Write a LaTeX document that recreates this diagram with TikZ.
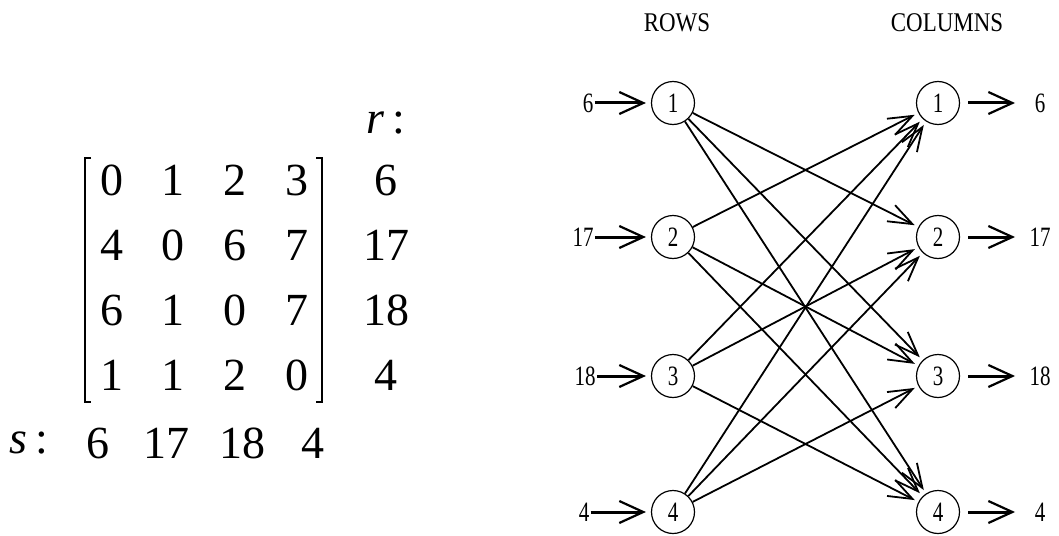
\documentclass[tikz,border=0pt]{standalone}
\usepackage{fontspec}
\setmainfont{Liberation Serif}
\newfontfamily\narrowfont[FakeStretch=0.75]{Liberation Serif}
\newfontfamily\headfont[FakeStretch=0.85]{Liberation Serif}
\usetikzlibrary{arrows.meta}
\tikzset{
  vert/.style={draw, circle, line width=0.6pt, minimum size=21.5pt, inner sep=0pt, font=\narrowfont\fontsize{14}{14}\selectfont},
  lab/.style={inner sep=0.5pt, font=\narrowfont\fontsize{14}{14}\selectfont},
  head/.style={inner sep=0pt, font=\headfont\fontsize{13.5}{13.5}\selectfont},
  mx/.style={inner sep=0pt, font=\fontsize{23}{23}\selectfont},
  edge/.style={line width=0.9pt, -{Straight Barb[length=12pt,width=9pt,line width=0.9pt]}, shorten >=2pt},
  flow/.style={line width=1.5pt, -{Straight Barb[length=12pt,width=11pt,line width=1.1pt]}},
  brack/.style={line width=1pt}
}
\begin{document}
\begin{tikzpicture}[x=0.5pt,y=-0.5pt]
\useasboundingbox (0,0) rectangle (1059,535);
% matrix
\foreach \r/\y/\a/\b/\c/\d in {1/180/0/1/2/3, 2/245/4/0/6/7, 3/310/6/1/0/7, 4/375/1/1/2/0}{
  \node[mx] (m\r a) at (112,\y) {\a};
  \node[mx] (m\r b) at (173,\y) {\b};
  \node[mx] (m\r c) at (235,\y) {\c};
  \node[mx] (m\r d) at (297,\y) {\d};
}
\draw[brack] (91,158) -- (85,158) -- (85,402) -- (91,402);
\draw[brack] (316,158) -- (322,158) -- (322,402) -- (316,402);
\node[mx] (rlab) at (386,123) {\textit{r}\,:};
\node[mx] (rv1) at (386,180) {6};
\node[mx] (rv2) at (386,245) {17};
\node[mx] (rv3) at (386,310) {18};
\node[mx] (rv4) at (386,375) {4};
\node[mx] (slab) at (29,443) {\textit{s}\,:};
\node[mx] (sv1) at (98,443) {6};
\node[mx] (sv2) at (166,443) {17};
\node[mx] (sv3) at (242,443) {18};
\node[mx] (sv4) at (313,443) {4};
% graph
\node[head] (rows) at (677,23) {ROWS};
\node[head] (cols) at (947,23) {COLUMNS};
\foreach \i/\y/\v/\lx in {1/103/6/588, 2/237/17/583, 3/376/18/585, 4/512/4/584}{
  \node[vert] (r\i) at (673,\y) {\i};
  \node[vert] (c\i) at (938,\y) {\i};
  \node[lab] (in\i) at (\lx,\y) {\v};
  \node[lab] (out\i) at (1040,\y) {\v};
  \coordinate (e\i) at (1015,\y);
  \draw[flow, shorten >=2.5pt] (in\i.east) -- (r\i);
  \draw[flow, shorten <=4pt] (c\i) -- (e\i);
}
\foreach \i in {1,...,4}{
  \foreach \j in {1,...,4}{
    \ifnum\i=\j\else
      \draw[edge] (r\i) -- (c\j);
    \fi
  }
}
\end{tikzpicture}
\end{document}
